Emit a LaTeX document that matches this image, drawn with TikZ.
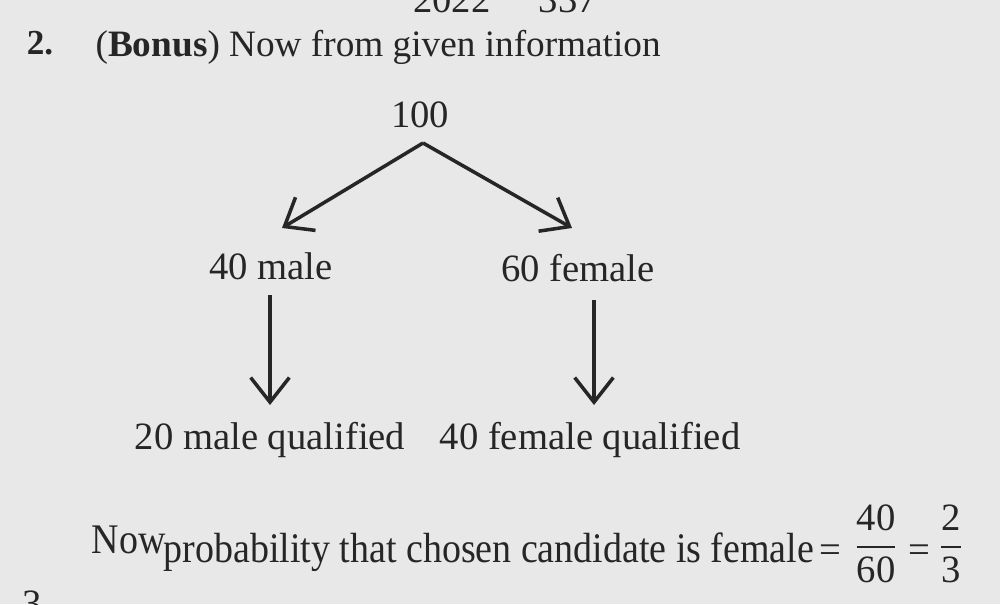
\documentclass[tikz,border=0pt]{standalone}
\usepackage{amsmath}
\usepackage{fontspec}
\setmainfont{Liberation Serif}
\newfontfamily\narrowserif[FakeStretch=0.9]{Liberation Serif}
\usetikzlibrary{arrows.meta}
\tikzset{
  txt/.style={inner sep=0pt, text=black!85, font=\fontsize{11}{13}\selectfont},
  narrow/.style={txt, font=\fontsize{12}{14}\narrowserif},
  branch/.style={-{Straight Barb[length=7pt,width=11pt]}, line width=1pt, black!85}
}
\begin{document}
\begin{tikzpicture}
    \useasboundingbox[fill=black!9] (0,0) rectangle (10,-6.04);
    \clip (0,0) rectangle (10,-6.04);

    % page header and question
    \node[txt] (page) at (5.05,0.0) {2022\quad\ 337};
    \node[txt, font=\fontsize{10}{12}\selectfont\bfseries] (num) at (0.40,-0.43) {2.};
    \node[txt, anchor=base west, font=\fontsize{10.6}{12}\selectfont] (head) at (0.95,-0.57) {(\textbf{Bonus}) Now from given information};

    % tree
    \node[txt] (total) at (4.20,-1.15) {100};
    \node[txt] (male) at (2.71,-2.66) {40 male};
    \node[txt] (fem) at (5.78,-2.68) {60 female};
    \node[txt] (mq) at (2.70,-4.40) {20 male qualified};
    \node[txt] (fq) at (5.90,-4.40) {40 female qualified};

    \coordinate (apex) at (4.23,-1.43);
    \coordinate (lend) at (2.82,-2.28);
    \coordinate (rend) at (5.72,-2.28);
    \draw[branch] (apex) -- (lend);
    \draw[branch] (apex) -- (rend);

    \coordinate (mtop) at (2.70,-2.95);
    \coordinate (mbot) at (2.70,-4.05);
    \coordinate (ftop) at (5.94,-3.00);
    \coordinate (fbot) at (5.94,-4.05);
    \draw[branch] (mtop) -- (mbot);
    \draw[branch] (ftop) -- (fbot);

    % result
    \node[narrow, anchor=base west] (now) at (0.91,-5.53) {Now};
    \node[narrow, anchor=base west] (prob) at (1.63,-5.62) {probability that chosen candidate is female};
    \node[txt, anchor=base west] (eqa) at (8.19,-5.62) {=};
    \node[txt] (frac) at (8.76,-5.44) {$\dfrac{\text{40}}{\text{60}}$};
    \node[txt, anchor=base west] (eqb) at (9.08,-5.62) {=};
    \node[txt] (fracb) at (9.51,-5.44) {$\dfrac{\text{2}}{\text{3}}$};

    \node[txt] (next) at (0.32,-6.04) {3};
\end{tikzpicture}
\end{document}
